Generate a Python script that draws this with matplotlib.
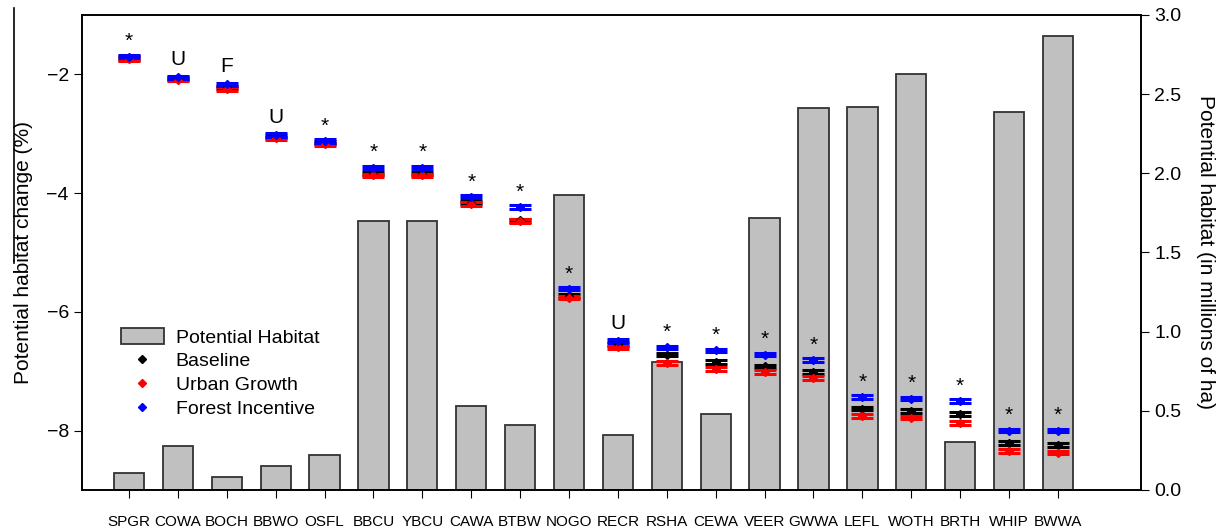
import matplotlib
matplotlib.use("Agg")
import matplotlib.pyplot as plt
from matplotlib.lines import Line2D
from matplotlib.patches import Patch
import numpy as np

plt.rcParams['font.family'] = ['Liberation Sans', 'DejaVu Sans']

species = ["SPGR", "COWA", "BOCH", "BBWO", "OSFL", "BBCU", "YBCU", "CAWA", "BTBW", "NOGO",
           "RECR", "RSHA", "CEWA", "VEER", "GWWA", "LEFL", "WOTH", "BRTH", "WHIP", "BWWA"]
habitat = [0.11, 0.28, 0.084, 0.15, 0.22, 1.70, 1.70, 0.53, 0.41, 1.86,
           0.35, 0.81, 0.48, 1.72, 2.41, 2.42, 2.63, 0.30, 2.39, 2.87]
baseline = [-1.72, -2.07, -2.22, -3.05, -3.15, -3.67, -3.67, -4.16, -4.46, -5.73,
            -6.54, -6.72, -6.84, -6.92, -7.01, -7.63, -7.67, -7.72, -8.21, -8.24]
urban = [-1.74, -2.09, -2.25, -3.08, -3.18, -3.70, -3.70, -4.18, -4.47, -5.76,
         -6.60, -6.86, -6.96, -7.01, -7.11, -7.75, -7.78, -7.87, -8.34, -8.37]
forest = [-1.70, -2.05, -2.17, -3.02, -3.12, -3.57, -3.57, -4.06, -4.23, -5.61,
          -6.49, -6.60, -6.65, -6.72, -6.81, -7.43, -7.46, -7.50, -8.00, -8.00]
err = [0.03] * 20
labels = ["*", "U", "F", "U", "*", "*", "*", "*", "*", "*",
          "U", "*", "*", "*", "*", "*", "*", "*", "*", "*"]

x = np.arange(len(species))

fig = plt.figure(figsize=(12.21, 5.30), dpi=100)
ax = fig.add_axes([0.0672, 0.0755, 0.8673, 0.8962])
ax2 = ax.twinx()

ax2.bar(x, habitat, width=0.62, color="#c0c0c0", edgecolor="#333333", linewidth=1.3)
ax2.set_ylim(0, 3.0)
ax2.set_yticks([0, 0.5, 1.0, 1.5, 2.0, 2.5, 3.0])
ax2.set_yticklabels(["0.0", "0.5", "1.0", "1.5", "2.0", "2.5", "3.0"])
ax2.set_ylabel("Potential habitat (in millions of ha)", rotation=270, labelpad=24, fontsize=15)
ax2.tick_params(axis='y', labelsize=14, direction='out', length=6)

ax.set_zorder(ax2.get_zorder() + 1)
ax.patch.set_visible(False)

for vals, col in [(baseline, "black"), (urban, "red"), (forest, "blue")]:
    ax.errorbar(x, vals, yerr=err, fmt="D", color=col, ms=4.5, capsize=8,
                elinewidth=1.6, capthick=2.2, ecolor=col)

for xi, lab, fv in zip(x, labels, forest):
    off = 0.30 if lab != "*" else 0.25
    ax.text(xi, fv + off, lab, ha="center", va="center", fontsize=15)

ax.set_xlim(-0.96, 20.7)
ax.set_ylim(-9, -1)
ax.set_yticks([-8, -6, -4, -2])
ax.set_xticks(x)
ax.set_xticklabels(species, fontsize=11)
ax.set_ylabel("Potential habitat change (%)", fontsize=15, labelpad=10)
ax.tick_params(axis='y', labelsize=14, direction='out', length=6)
ax.tick_params(axis='x', direction='out', length=6, pad=12)
for sp in list(ax.spines.values()) + list(ax2.spines.values()):
    sp.set_linewidth(1.2)

handles = [Patch(facecolor="#c0c0c0", edgecolor="#333333", linewidth=1.3),
           Line2D([], [], marker="D", color="black", ls="none", ms=4),
           Line2D([], [], marker="D", color="red", ls="none", ms=4),
           Line2D([], [], marker="D", color="blue", ls="none", ms=4)]
ax.legend(handles, ["Potential Habitat", "Baseline", "Urban Growth", "Forest Incentive"],
          loc="upper left", bbox_to_anchor=(0.024, 0.37), frameon=False, fontsize=14,
          handlelength=2.2, handleheight=0.9, labelspacing=0.26, handletextpad=0.6,
          borderpad=0.2)

fig.add_artist(Line2D([14 / 1221, 14 / 1221], [1 - 8 / 530, 1 - 263 / 530],
                      transform=fig.transFigure, color="black", lw=1.2))

fig.savefig("out.png", dpi=100)
